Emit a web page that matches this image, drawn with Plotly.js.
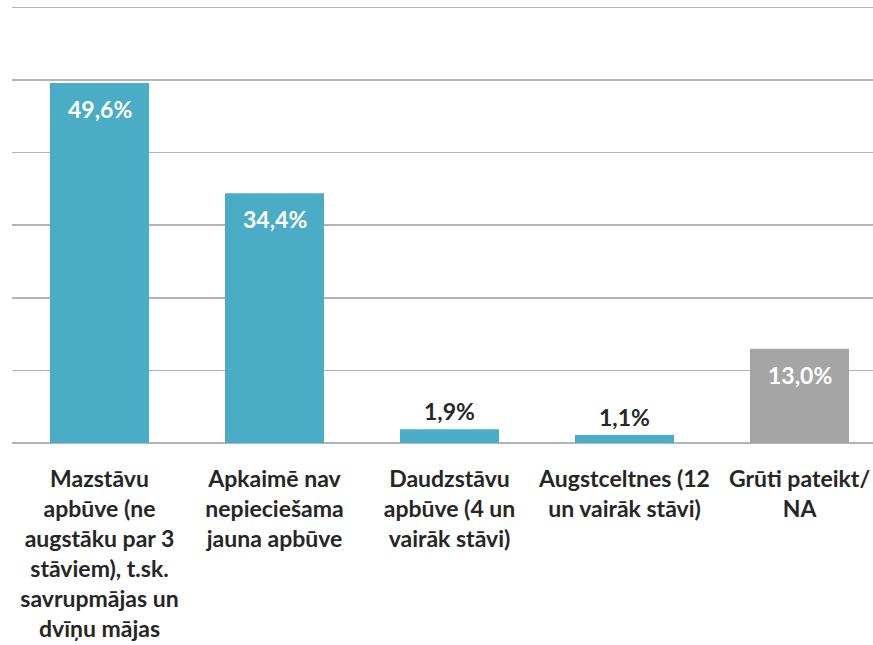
<!DOCTYPE html>
<html>
<head>
<meta charset="utf-8">
<script src="https://cdn.plot.ly/plotly-3.0.1.min.js"></script>
<style>html,body{margin:0;padding:0;background:#fff;}#chart{width:873px;height:645px;}</style>
</head>
<body>
<div id="chart"></div>
<script>
var categories = [
  "Mazstāvu<br>apbūve (ne<br>augstāku par 3<br>stāviem), t.sk.<br>savrupmājas un<br>dvīņu mājas",
  "Apkaimē nav<br>nepieciešama<br>jauna apbūve",
  "Daudzstāvu<br>apbūve (4 un<br>vairāk stāvi)",
  "Augstceltnes (12<br>un vairāk stāvi)",
  "Grūti pateikt/<br>NA"
];
var values = [49.6, 34.4, 1.9, 1.1, 13.0];
var barColors = ["#4BACC6", "#4BACC6", "#4BACC6", "#4BACC6", "#A5A5A5"];
var yTicks = [0, 10, 20, 30, 40, 50, 60];

var font = "Lato, 'Open Sans', sans-serif";
var insideThreshold = 5;

var annotations = values.map(function (v, i) {
  var inside = v > insideThreshold;
  return {
    x: i, y: v, xref: "x", yref: "y",
    text: v.toFixed(1).replace(".", ",") + "%",
    showarrow: false,
    yshift: inside ? -26 : 18,
    font: { family: font, size: 23, color: inside ? "#ffffff" : "#262626", weight: 700 }
  };
});

var trace = {
  type: "bar",
  x: [0, 1, 2, 3, 4],
  y: values,
  marker: { color: barColors, line: { width: 0 } },
  hoverinfo: "none"
};

var layout = {
  width: 873, height: 645,
  margin: { l: 12, r: 0, t: 6, b: 202, pad: 0 },
  paper_bgcolor: "#ffffff",
  plot_bgcolor: "#ffffff",
  showlegend: false,
  bargap: 0.434,
  xaxis: {
    range: [-0.5, 4.42],
    tickmode: "array",
    tickvals: [0, 1, 2, 3, 4],
    ticktext: categories,
    ticks: "",
    showgrid: false,
    zeroline: false,
    showline: false,
    ticklabelstandoff: 20,
    tickfont: { family: font, size: 23, color: "#262626", weight: 700 }
  },
  yaxis: {
    range: [0, 60.2],
    tickmode: "array",
    tickvals: yTicks,
    showticklabels: false,
    showgrid: true,
    gridcolor: "#B4B4B4",
    gridwidth: 1.5,
    zeroline: true,
    zerolinecolor: "#B4B4B4",
    zerolinewidth: 1.5,
    showline: false
  },
  annotations: annotations
};

Plotly.newPlot("chart", [trace], layout, { displayModeBar: false, staticPlot: true });
</script>
</body>
</html>
